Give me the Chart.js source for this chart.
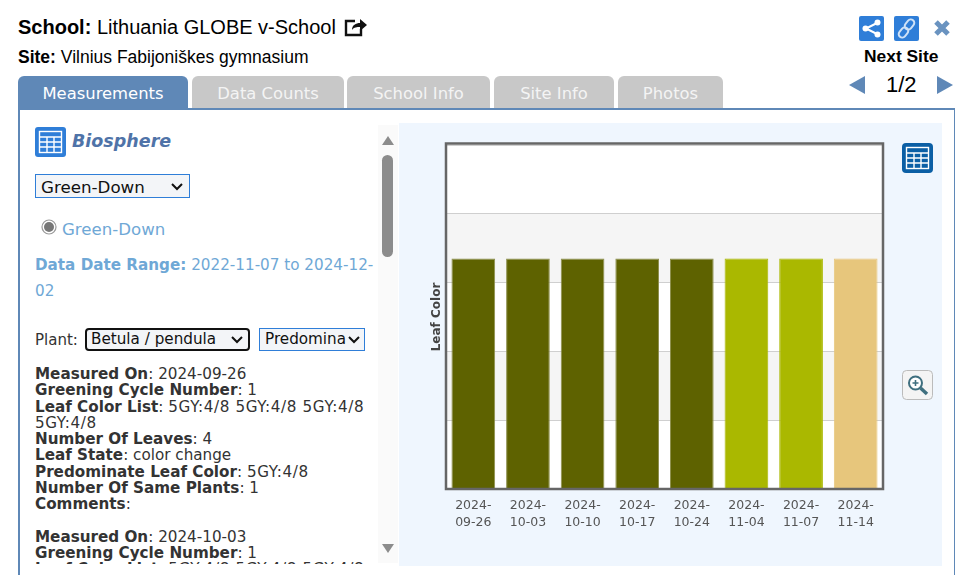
<!DOCTYPE html>
<html>
<head>
<meta charset="utf-8">
<title>Biosphere</title>
<script src="https://cdn.jsdelivr.net/npm/chart.js@4/dist/chart.umd.min.js"></script>
<style>
html, body { margin: 0; padding: 0; background: #fff; overflow: hidden; }
body { width: 955px; height: 575px; position: relative; font-family: "Liberation Sans", Arial, sans-serif; color: #000; }
.abs { position: absolute; white-space: nowrap; }
.tab { position: absolute; top: 76px; height: 32px; line-height: 35px; text-align: center; background: #c8c8c8; color: #f4f4f4; border-radius: 6px 6px 0 0; font-family: "DejaVu Sans", Verdana, sans-serif; font-size: 16.4px; }
.tab.on { background: #5f88b7; color: #fff; height: 33px; }
#panel { position: absolute; left: 18px; top: 108px; width: 934px; height: 480px; border: 2px solid #5f88b7; box-sizing: content-box; }
#side { position: absolute; left: 35px; top: 366px; width: 335px; height: 198px; overflow: hidden; font-family: "DejaVu Sans", Verdana, sans-serif; font-size: 15.2px; line-height: 16.25px; color: #333; }
#side b { color: #333; }
#side i { font-style: normal; letter-spacing: 0.6px; }
#track { position: absolute; left: 378px; top: 125px; width: 20px; height: 438px; background: #fafafa; }
#chartBox { position: absolute; left: 399px; top: 123px; width: 543px; height: 443px; background: #eff6fe; }
</style>
</head>
<body>
<div class="abs" style="left:18px;top:15px;font-size:20px;line-height:24px"><b>School:</b> Lithuania GLOBE v-School</div>
<svg class="abs" style="left:344px;top:16px" width="24" height="21" viewBox="0 0 24 21">
  <path d="M11 5H2v14h15v-6" fill="none" stroke="#111" stroke-width="2.4"/>
  <path d="M8 14c0-5 4-7 8-7V3l7 6-7 6v-4c-3 0-6 0-8 3z" fill="#111"/>
</svg>
<div class="abs" style="left:18px;top:47px;font-size:17.5px;line-height:20px"><b>Site:</b> Vilnius Fabijoniškes gymnasium</div>

<svg class="abs" style="left:859px;top:16px" width="25" height="25" viewBox="0 0 25 25">
  <rect width="25" height="25" rx="2" fill="#2f7ed8"/>
  <path d="M18 7L7 12.500L18 18" fill="none" stroke="#fff" stroke-width="2"/>
  <circle cx="18.500" cy="6.500" r="3" fill="#fff"/><circle cx="6.500" cy="12.500" r="3" fill="#fff"/><circle cx="18.500" cy="18.500" r="3" fill="#fff"/>
</svg>
<svg class="abs" style="left:894px;top:16px" width="25" height="25" viewBox="0 0 25 25">
  <rect width="25" height="25" rx="2" fill="#2f7ed8"/>
  <g fill="none" stroke="#cfe2f7" stroke-width="2">
    <rect x="12" y="3" width="7" height="11" rx="3.500" transform="rotate(40 15.500 8.500)"/>
    <rect x="6" y="11" width="7" height="11" rx="3.500" transform="rotate(40 9.500 16.500)"/>
  </g>
</svg>
<svg class="abs" style="left:933px;top:19px" width="18" height="18" viewBox="0 0 18 18">
  <path d="M3 3L15 15M15 3L3 15" stroke="#6a93c0" stroke-width="5"/>
</svg>
<div class="abs" style="left:864px;top:46px;font-size:17.4px;line-height:20px;font-weight:bold">Next Site</div>
<svg class="abs" style="left:849px;top:76px" width="17" height="18"><path d="M16 0V18L0 9z" fill="#5f88b7"/></svg>
<div class="abs" style="left:886px;top:71px;font-size:22px;line-height:27px">1/2</div>
<svg class="abs" style="left:937px;top:76px" width="17" height="18"><path d="M0 0V18L16 9z" fill="#5f88b7"/></svg>

<div id="panel"></div>
<div class="tab on" style="left:18px;width:170px">Measurements</div>
<div class="tab" style="left:192px;width:152px">Data Counts</div>
<div class="tab" style="left:347px;width:143px">School Info</div>
<div class="tab" style="left:494px;width:120px">Site Info</div>
<div class="tab" style="left:618px;width:105px">Photos</div>

<svg class="abs" style="left:35px;top:127px" width="31" height="30" viewBox="0 0 31 30">
  <rect width="31" height="30" rx="3" fill="#2f7ed8"/>
  <g fill="none" stroke="#fff" stroke-width="1.400">
    <rect x="4.500" y="4.500" width="22" height="21"/>
    <path d="M4.500 10H26.500M4.500 15H26.500M4.500 20H26.500M12 10V25.500M19 10V25.500"/>
  </g>
</svg>
<div class="abs" style="left:72px;top:129px;font-family:'DejaVu Sans',Verdana,sans-serif;font-size:17.5px;line-height:24px;font-weight:bold;font-style:italic;color:#4f73a8">Biosphere</div>
<div class="abs" style="left:35px;top:174px;width:155px;height:24px;box-sizing:border-box;border:1px solid #2f7ed8;background:#f3f5f8;font-family:'DejaVu Sans',Verdana,sans-serif;font-size:16.7px;line-height:24px;padding-left:5px;color:#111">Green-Down
  <svg style="position:absolute;right:6px;top:8px" width="12" height="8"><path d="M1 1L6 6L11 1" fill="none" stroke="#111" stroke-width="2"/></svg>
</div>
<svg class="abs" style="left:41px;top:219px" width="16" height="16">
  <circle cx="8" cy="8" r="7" fill="#fff" stroke="#999" stroke-width="1.200"/><circle cx="8" cy="8" r="5" fill="#777"/>
</svg>
<div class="abs" style="left:62px;top:220px;font-family:'DejaVu Sans',Verdana,sans-serif;font-size:16.6px;line-height:20px;color:#6fa8d6">Green-Down</div>
<div class="abs" style="left:35px;top:255px;font-family:'DejaVu Sans',Verdana,sans-serif;font-size:15.2px;line-height:20px;color:#6fa8d6"><b>Data Date Range:</b> 2022-11-07 to 2024-12-</div>
<div class="abs" style="left:35px;top:281px;font-family:'DejaVu Sans',Verdana,sans-serif;font-size:15.2px;line-height:20px;color:#6fa8d6">02</div>

<div class="abs" style="left:35px;top:330px;font-family:'DejaVu Sans',Verdana,sans-serif;font-size:15px;line-height:20px;color:#333">Plant:</div>
<div class="abs" style="left:85px;top:328px;width:165px;height:23px;box-sizing:border-box;border:2px solid #111;border-radius:4px;background:#f3f5f8;font-family:'DejaVu Sans',Verdana,sans-serif;font-size:15.2px;line-height:19px;padding-left:4px;color:#111">Betula / pendula
  <svg style="position:absolute;right:5px;top:6px" width="12" height="8"><path d="M1 1L6 6L11 1" fill="none" stroke="#111" stroke-width="2"/></svg>
</div>
<div class="abs" style="left:259px;top:328px;width:106px;height:23px;box-sizing:border-box;border:1px solid #2f7ed8;background:#f3f5f8;font-family:'DejaVu Sans',Verdana,sans-serif;font-size:15.2px;line-height:21px;padding-left:5px;color:#111;overflow:hidden">Predomina
  <svg style="position:absolute;right:3px;top:7px;background:#f3f5f8" width="13" height="8"><path d="M1 1L6 6L11 1" fill="none" stroke="#111" stroke-width="2"/></svg>
</div>

<div id="side">
<b>Measured On</b>: 2024-09-26<br>
<b>Greening Cycle Number</b>: 1<br>
<b>Leaf Color List</b>: <i>5GY:4/8 5GY:4/8 5GY:4/8 5GY:4/8</i><br>
<b>Number Of Leaves</b>: 4<br>
<b>Leaf State</b>: color change<br>
<b>Predominate Leaf Color</b>: <i>5GY:4/8</i><br>
<b>Number Of Same Plants</b>: 1<br>
<b>Comments</b>:<br>
<br>
<b>Measured On</b>: 2024-10-03<br>
<b>Greening Cycle Number</b>: 1<br>
<b>Leaf Color List</b>: <i>5GY:4/8 5GY:4/8 5GY:4/8 5GY:4/8</i>
</div>

<div id="track"></div>
<svg class="abs" style="left:381px;top:136px" width="14" height="10"><path d="M7 0L13 9H1z" fill="#8c8c8c"/></svg>
<div class="abs" style="left:382px;top:155px;width:11px;height:102px;border-radius:6px;background:#8c8c8c"></div>
<svg class="abs" style="left:381px;top:544px" width="14" height="10"><path d="M7 9L13 0H1z" fill="#8c8c8c"/></svg>

<div id="chartBox"><canvas id="chartBars" width="543" height="443"></canvas></div>

<svg class="abs" style="left:902px;top:143px" width="31" height="30" viewBox="0 0 31 30">
  <rect width="31" height="30" rx="4" fill="#0b5fa5"/>
  <g fill="none" stroke="#fff" stroke-width="1.400">
    <rect x="4.500" y="4.500" width="22" height="21"/>
    <path d="M4.500 10H26.500M4.500 15H26.500M4.500 20H26.500M12 10V25.500M19 10V25.500"/>
  </g>
</svg>
<svg class="abs" style="left:902px;top:370px" width="31" height="30" viewBox="0 0 31 30">
  <rect x="0.500" y="0.500" width="30" height="29" rx="4" fill="#f4f4f4" stroke="#bbb"/>
  <circle cx="13.500" cy="13" r="6.500" fill="#fff" stroke="#3f6f7f" stroke-width="2"/>
  <path d="M18.500 18L25 24" stroke="#3f6f7f" stroke-width="3.500"/>
  <path d="M10.500 13H16.500M13.500 10V16" stroke="#3f6f7f" stroke-width="1.600"/>
</svg>

<script>
const dates = [
    ['2024-', '09-26'], ['2024-', '10-03'], ['2024-', '10-10'], ['2024-', '10-17'],
    ['2024-', '10-24'], ['2024-', '11-04'], ['2024-', '11-07'], ['2024-', '11-14']
];
const leafColorValues = [3.35, 3.35, 3.35, 3.35, 3.35, 3.35, 3.35, 3.35];
const barColors = ['#5e6200', '#5e6200', '#5e6200', '#5e6200', '#5e6200', '#aab800', '#aab800', '#e7c67c'];
const barEdges = ['#8d8f4c', '#8d8f4c', '#8d8f4c', '#8d8f4c', '#8d8f4c', '#aab800', '#aab800', '#e7c67c'];
const yTicks = [0, 1, 2, 3, 4, 5];

// alternating bands behind the bars, and the heavy frame on top
const plotFrame = {
    id: 'plotFrame',
    beforeDraw(chart) {
        const c = chart.ctx, a = chart.chartArea, y = chart.scales.y;
        c.save();
        c.fillStyle = '#ffffff';
        c.fillRect(a.left, a.top - 2, a.width, a.height + 2);
        c.fillStyle = '#f5f5f5';
        [[1, 2], [3, 4]].forEach(function (b) {
            c.fillRect(a.left, y.getPixelForValue(b[1]), a.width, y.getPixelForValue(b[0]) - y.getPixelForValue(b[1]));
        });
        c.restore();
    },
    afterDatasetsDraw(chart) {
        const c = chart.ctx, a = chart.chartArea;
        c.save();
        c.strokeStyle = '#666666';
        c.lineWidth = 2.5;
        c.strokeRect(a.left, a.top - 1.5, a.width, a.height + 1.5);
        c.restore();
    }
};

new Chart(document.getElementById('chartBars').getContext('2d'), {
    type: 'bar',
    data: {
        labels: dates,
        datasets: [{
            label: 'Leaf Color',
            data: leafColorValues,
            backgroundColor: barColors,
            borderColor: barEdges,
            borderWidth: 1,
            barPercentage: 0.8,
            categoryPercentage: 1
        }]
    },
    options: {
        responsive: false,
        animation: false,
        devicePixelRatio: 1,
        layout: { padding: { top: 22, right: 59, left: 0, bottom: 0 } },
        plugins: { legend: { display: false }, title: { display: false }, tooltip: { enabled: false } },
        scales: {
            x: {
                grid: { display: false },
                border: { display: false },
                afterFit(scale) { scale.height = 77; },
                ticks: {
                    maxRotation: 0, minRotation: 0, padding: 0, color: '#555555',
                    font: { family: '"DejaVu Sans", Verdana, sans-serif', size: 12.5, lineHeight: 1.36 }
                }
            },
            y: {
                min: 0,
                max: 5,
                afterBuildTicks(scale) { scale.ticks = yTicks.map(function (v) { return { value: v }; }); },
                afterFit(scale) { scale.width = 47; },
                grid: { color: '#cfcfcf', lineWidth: 1, drawTicks: false },
                border: { display: false },
                ticks: { display: false },
                title: {
                    display: true,
                    text: 'Leaf Color',
                    color: '#444444',
                    padding: { top: 31, bottom: 0 },
                    font: { family: '"DejaVu Sans", Verdana, sans-serif', size: 12, weight: 'bold' }
                }
            }
        }
    },
    plugins: [plotFrame]
});
</script>
</body>
</html>
